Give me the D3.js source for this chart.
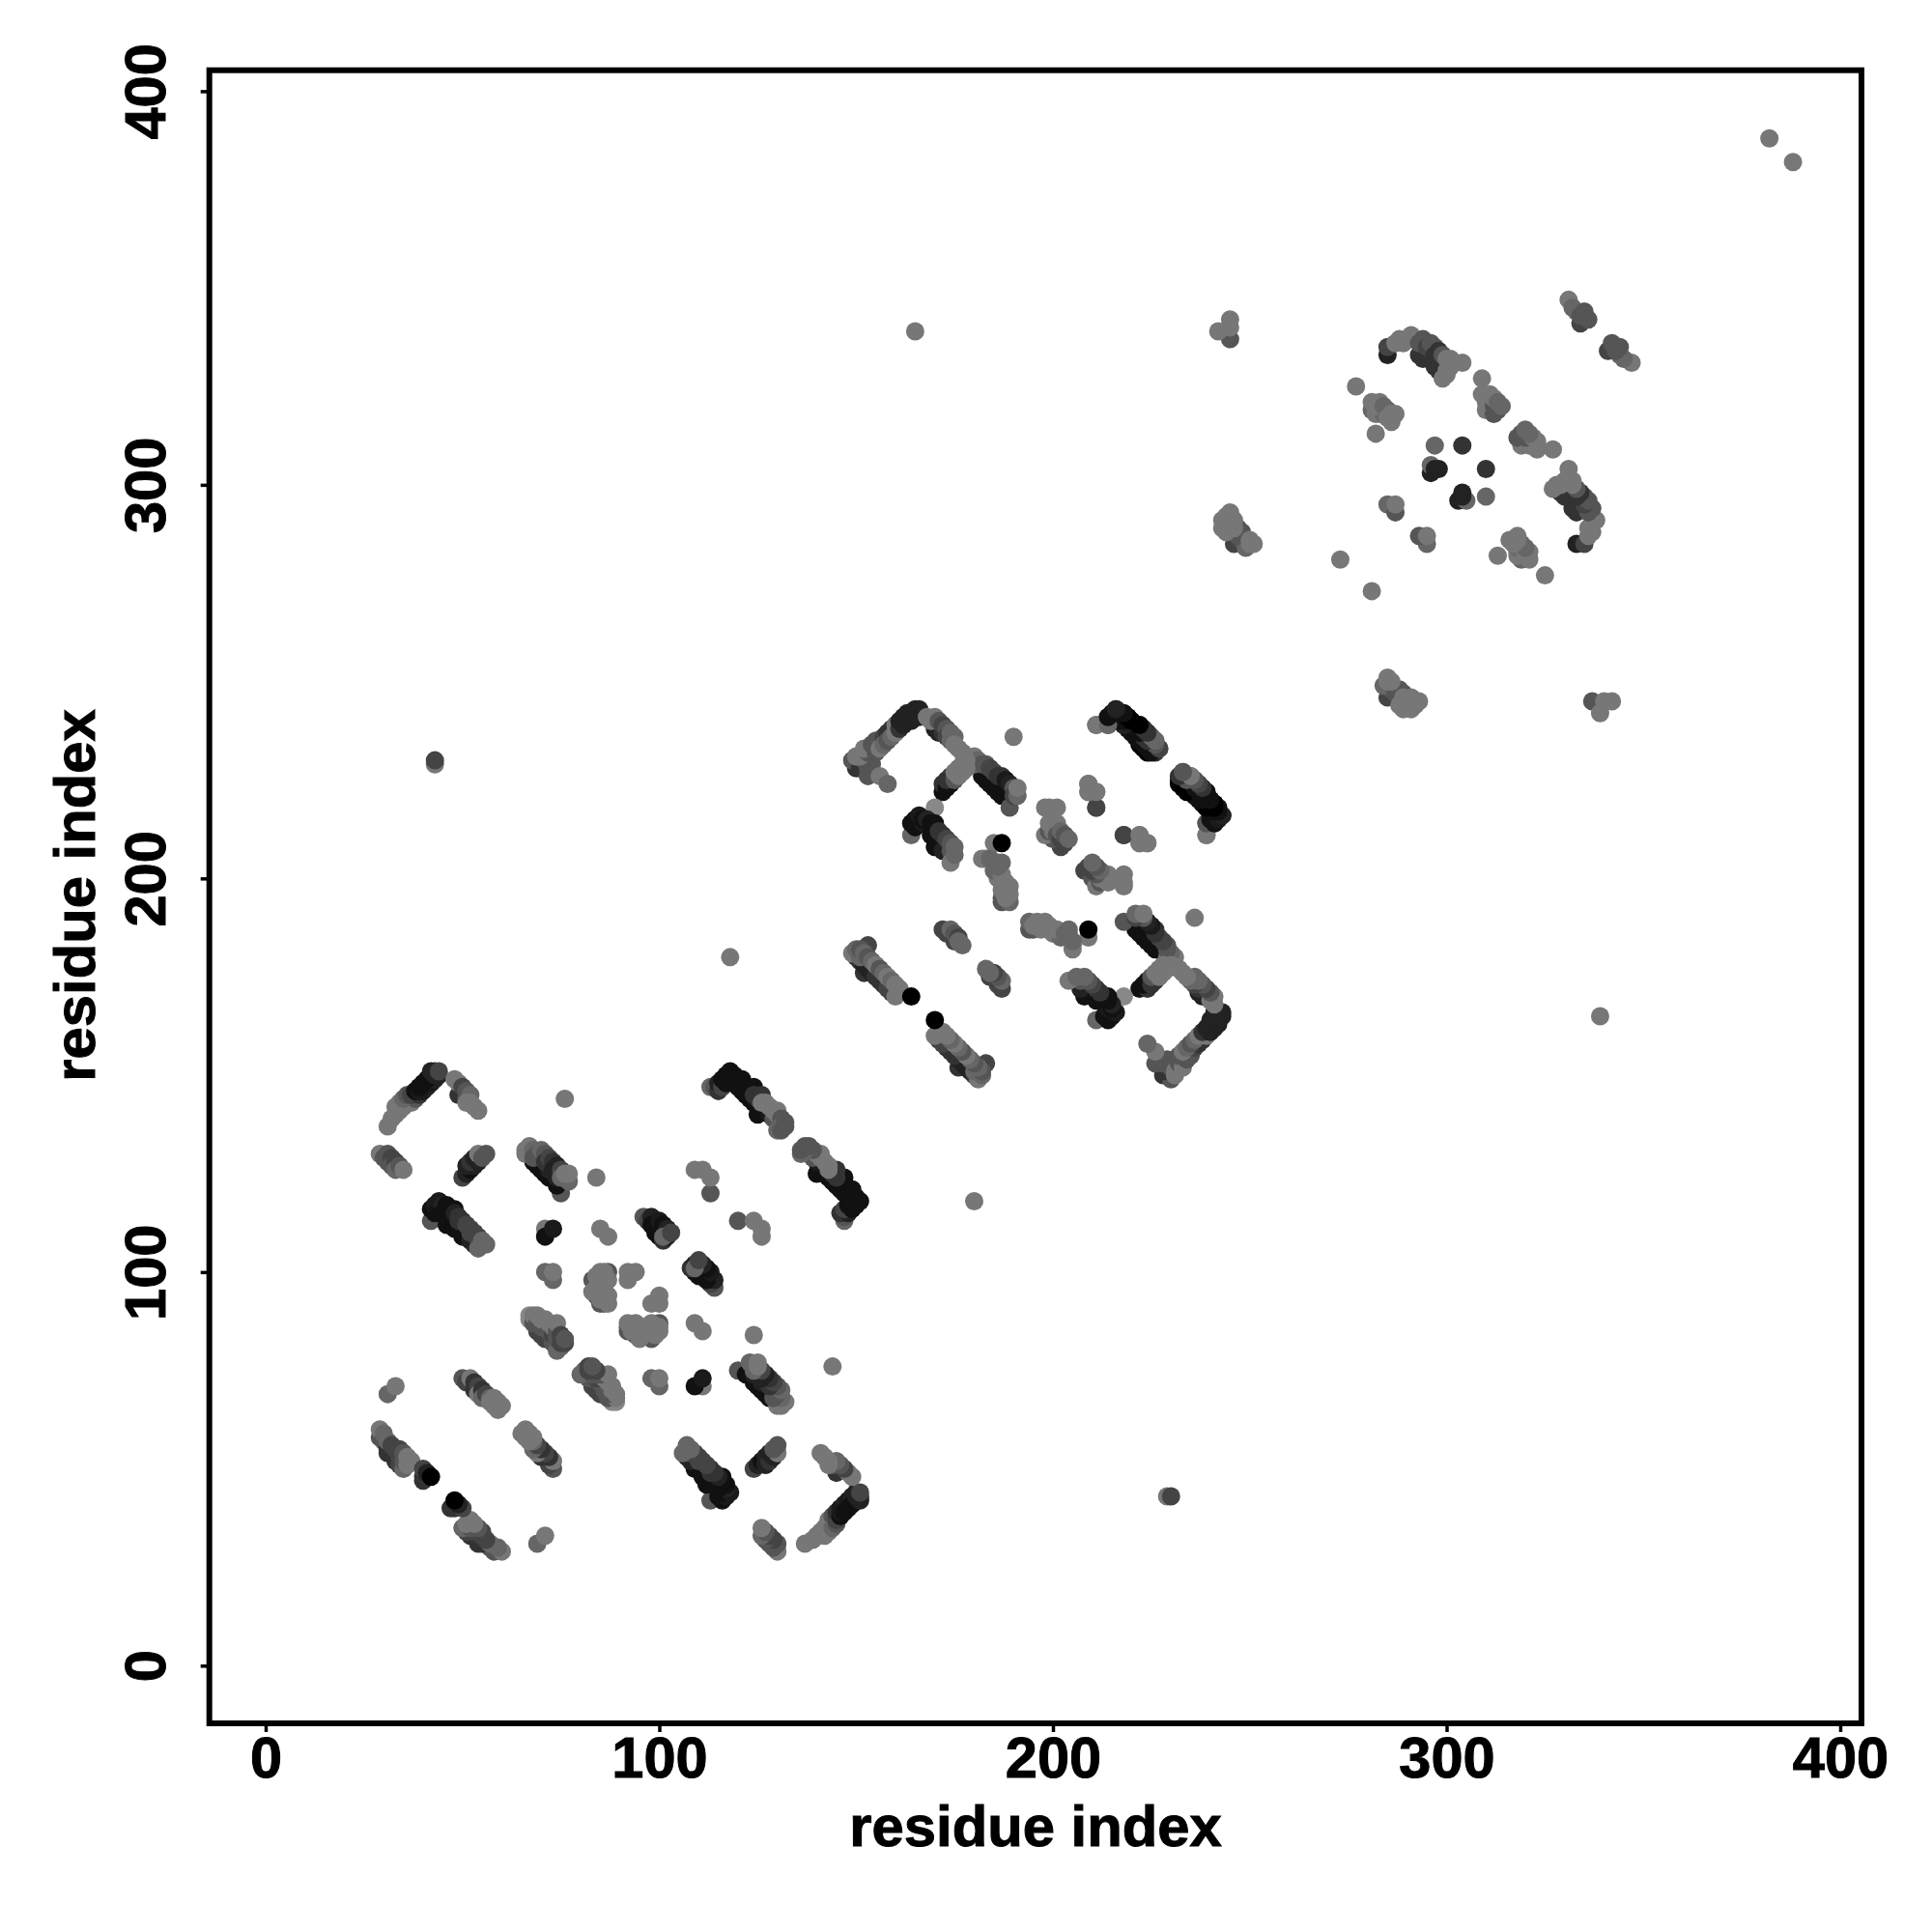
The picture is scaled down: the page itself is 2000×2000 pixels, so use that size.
<!DOCTYPE html>
<html><head><meta charset="utf-8">
<style>html,body{margin:0;padding:0;background:#fff}svg{display:block}</style>
<script src="https://cdn.jsdelivr.net/npm/d3@7"></script></head>
<body><svg id="c" width="2000" height="2000"></svg>
<script>
const tickValues=[0,100,200,300,400];
const axisTitle="residue index";
// contacts: [residue i, residue j, grey level]; the map is symmetric, each pair is drawn at (i,j) and (j,i)
const contacts=[
[31,137,119],[32,139,119],[33,140,119],[34,141,119],[35,142,119],[33,142,119],[34,143,119],[36,143,119],[37,143,119],[38,144,85],[35,144,102],[36,145,85],[37,145,68],[39,145,51],[38,146,17],[40,146,26],[41,147,34],[39,146,26],[39,147,17],[42,148,26],[40,148,17],[43,149,34],[41,149,17],[44,150,34],[42,150,17],[43,150,34],[43,151,34],[42,151,34],[44,151,68],
[49,145,51],[50,145,51],[48,149,119],[49,148,119],[50,147,68],[51,146,85],[51,144,85],[52,145,102],[51,143,119],[52,143,119],[53,142,119],[54,141,119],
[29,130,119],[30,129,85],[31,130,85],[31,128,85],[32,129,68],[32,127,85],[33,128,68],[33,126,102],[34,127,85],[35,126,119],
[50,124,68],[51,125,34],[52,126,17],[51,127,34],[53,127,34],[52,128,51],[54,128,34],[53,129,34],[54,130,119],[55,129,85],[56,130,85],
[42,113,85],[42,116,17],[43,115,17],[43,117,26],[44,116,17],[44,118,26],[45,117,34],[46,114,17],[46,117,17],[47,113,17],[46,112,17],[48,112,17],[48,111,17],[49,111,17],[50,109,17],[51,109,17],[50,110,17],[53,107,34],[52,108,34],[45,115,17],[48,116,17],[47,116,17],[48,115,34],[49,114,51],[49,113,51],[50,113,51],[51,112,68],[52,111,68],[52,110,68],[53,110,68],[54,109,68],[54,108,68],[54,106,102],[55,108,102],[55,107,102],[56,107,102],
[75,120,85],[68,128,17],[69,127,17],[70,126,17],[71,125,17],[72,124,17],[73,124,17],[74,122,17],[72,126,34],[74,124,34],[66,130,119],[66,131,119],[67,132,119],[68,131,102],[68,129,85],[69,130,85],[70,131,102],[71,130,85],[71,128,51],[72,129,68],[73,128,51],[73,126,34],[74,127,34],[75,126,68],[75,124,102],[76,124,102],[77,123,102],[76,125,119],[77,125,119],
[76,144,119],[84,124,119],
[71,111,119],[71,109,17],[73,111,26],[85,111,119],[87,109,119],
[96,114,85],[97,113,68],[98,114,34],[98,112,17],[99,112,17],[99,110,17],[100,109,17],[101,108,51],[100,111,17],[100,113,26],[101,112,17],[102,109,34],[102,111,34],[101,109,102],[103,110,68],
[113,120,85],[109,126,119],[111,126,119],[113,124,119],
[113,147,102],[114,147,85],[115,146,51],[115,148,34],[116,147,68],[116,149,17],[117,148,17],[117,150,17],[118,151,17],[118,149,17],[119,148,17],[119,150,17],[120,149,17],[120,147,17],[121,149,17],[121,146,17],[122,145,17],[123,144,17],[124,143,17],[125,142,17],[126,141,17],[127,141,17],[125,140,17],[128,140,26],[122,147,17],[123,146,17],[124,147,17],[124,145,51],[125,144,51],[126,145,51],[126,143,119],[127,143,119],[128,142,119],[129,139,85],[129,141,119],[130,141,119],[130,140,119],[130,136,102],[131,139,85],[131,137,102],[131,136,85],[132,137,85],[132,138,85],
[71,100,102],[73,98,102],[73,100,119],
[85,92,85],[84,94,85],[86,92,85],[83,98,85],[87,100,85],[86,100,119],[85,100,119],[83,95,119],[84,96,119],[84,99,119],[85,95,119],[86,96,119],[86,97,119],[87,94,119],[85,93,119],[87,92,119],[85,98,119],[87,98,119],[92,98,119],[92,100,119],[94,100,119],
[31,69,102],[33,71,119],
[50,73,85],[51,72,68],[52,73,119],[53,70,51],[53,72,51],[54,71,68],[54,69,119],[55,70,51],[55,68,102],[56,69,68],[57,68,102],[57,67,119],[58,66,119],[58,68,119],[59,65,119],[59,67,119],[60,66,119],
[69,85,68],[70,84,68],[71,83,68],[72,83,68],[73,82,85],[74,80,102],[75,81,102],[67,88,136],[67,89,136],[68,87,85],[68,89,119],[69,87,85],[69,89,119],[70,86,85],[70,88,119],[71,88,119],[72,85,85],[72,87,119],[73,84,68],[73,86,119],[74,83,85],[74,85,85],[74,87,119],[75,82,68],[75,84,68],[76,82,68],[76,83,85],
[29,58,85],[29,60,119],[30,57,85],[30,59,102],[31,54,51],[31,55,51],[32,54,51],[33,52,51],[33,53,51],[34,51,68],[31,57,102],[32,56,68],[33,55,68],[34,53,68],[34,55,68],[35,50,102],[35,52,85],[35,54,85],[36,51,119],[36,53,119],[37,52,119],[40,47,51],[40,48,51],[40,50,68],[41,49,34],[42,48,0],
[150,180,68],[151,179,51],[152,176,51],[152,178,34],[153,177,34],[154,176,34],[155,175,51],[156,174,51],[157,173,51],[158,172,68],[159,171,68],[149,181,119],[150,182,102],[153,183,68],[151,180,102],[151,182,85],[152,181,102],[153,180,85],[154,179,102],[155,178,119],[156,177,85],[157,176,102],[158,175,119],[159,174,102],[160,173,119],[160,170,119],[161,172,119],[164,170,0],
[172,187,68],[173,186,68],[174,187,102],[175,184,68],[175,186,85],[176,185,68],[176,184,102],[177,183,102],
[150,228,51],[149,230,85],[151,228,51],[152,230,85],[153,226,85],[153,228,85],[154,229,85],[150,231,119],[151,231,119],[153,232,85],[152,233,119],[154,234,85],[155,232,85],[156,226,119],[158,224,102],[155,235,85],[156,233,119],[157,236,68],[157,234,102],[158,237,51],[158,235,85],[159,238,51],[159,236,102],[160,237,119],[160,239,119],[161,238,51],[161,240,34],[162,239,34],[162,241,34],[164,240,34],[163,240,34],[163,242,34],[164,242,34],[165,241,34],[165,243,34],[166,241,34],[166,243,34],
[170,238,34],[171,237,34],[172,237,51],[168,241,119],[169,240,119],[170,241,119],[171,240,85],[172,239,68],[173,238,85],[173,236,68],[174,235,102],[174,237,102],[175,236,102],[175,234,119],[176,233,119],[177,232,119],[178,231,119],
[182,226,17],[183,225,17],[184,224,17],[185,223,17],[186,222,17],[187,221,17],[188,222,17],[189,220,17],[189,218,85],[179,230,119],[180,231,119],[180,229,102],[181,230,102],[182,229,85],[183,229,85],[184,228,68],[185,227,68],[186,226,51],[187,226,51],[188,225,26],[189,224,34],[190,223,85],[190,221,68],[191,221,102],[191,223,119],
[172,222,17],[172,224,51],[173,223,17],[174,224,17],[173,225,51],[174,226,51],[175,225,85],[175,227,119],[176,226,119],[177,227,119],[176,228,119],[177,229,119],[178,228,119],[178,230,119],
[170,218,136],
[164,211,102],[164,214,17],[165,213,17],[165,215,17],[166,216,26],[167,214,26],[167,215,17],[168,215,34],[169,211,17],[170,210,17],[171,209,17],[170,208,17],[173,208,34],[172,207,34],[169,214,17],[170,214,17],[171,212,51],[172,211,51],[173,210,68],[174,209,85],[174,207,85],[174,204,119],[175,208,102],[175,206,102],
[185,209,119],[187,209,0],
[187,194,85],[189,194,102],[187,195,85],[188,195,119],[187,197,119],[188,197,119],[189,196,119],[189,198,119],[188,199,119],[187,199,119],[186,200,119],[185,202,102],[187,201,119],[182,205,119],[183,205,119],[184,205,102],[186,203,102],[186,204,102],[187,204,102],
[190,236,119],
[211,218,68],[209,224,119],[209,222,119],[211,222,119],
[218,211,68],[222,209,119],[222,211,119],[224,209,119],
[202,208,68],[200,210,85],[198,211,119],[199,212,85],[199,214,119],[200,212,119],[200,214,119],[201,214,119],[201,211,85],[202,210,68],[202,212,102],[203,209,68],[203,211,85],[204,210,102],[198,218,119],[199,218,119],[201,218,119],
[211,239,119],[214,239,85],[214,241,17],[215,240,17],[215,242,26],[216,243,34],[217,240,17],[217,242,17],[218,239,0],[218,241,0],[219,241,0],[220,238,17],[220,240,17],[221,236,17],[221,238,17],[222,239,17],[222,234,0],[222,237,17],[223,233,0],[224,232,0],[223,236,17],[223,238,51],[224,237,68],[225,236,85],[225,234,85],[226,232,51],[226,235,119],[227,233,85],
[232,225,17],[233,224,17],[233,227,68],[234,223,17],[235,222,17],[236,221,17],[237,220,17],[238,219,17],[234,226,85],[235,224,51],[235,226,102],[236,223,51],[236,225,102],[237,222,17],[237,224,51],[238,221,17],[238,223,51],[239,222,0],[239,218,34],[240,216,17],[240,218,17],[240,220,0],[239,211,119],[239,214,102],[241,214,17],[241,219,0],[242,216,17],[242,218,17],[243,216,34],
[43,229,119],[43,230,68],[165,339,119],[118,180,119],
[245,337,85],[242,339,119],[245,340,119],[245,342,119],
[246,285,68],[247,286,68],[248,286,85],[249,284,102],[247,287,85],[248,288,85],[247,289,85],[244,288,119],[243,289,119],[243,291,119],[245,290,119],[246,289,119],[246,291,119],[244,292,119],[245,293,119],[250,285,119],[250,286,119],[251,285,119],
[273,281,119],[277,325,119],
[281,319,102],[282,318,119],[283,318,119],[284,318,102],[285,319,102],[281,321,119],[282,320,119],[283,321,119],[284,320,102],[285,317,119],[286,316,119],[286,318,119],[287,318,119],[282,313,119],
[285,333,34],[285,335,68],[293,333,51],[294,332,51],[295,333,51],[296,333,51],[297,330,51],[298,329,51],[298,332,51],[299,331,51],[287,336,119],[288,337,119],[289,336,119],[290,337,119],[291,338,119],[292,337,119],[293,336,85],[294,337,85],[295,335,68],[296,336,85],[297,335,85],[297,333,51],[298,334,51],[299,333,85],[299,327,119],[300,328,119],[300,329,119],[300,332,119],[301,330,119],[301,332,119],[302,331,119],[304,331,119],
[309,327,119],[310,319,119],[312,318,85],[313,319,85],[309,323,119],[310,321,119],[311,321,119],[311,323,119],[312,320,85],[312,322,119],[313,321,102],[314,320,102],
[297,310,102],[304,310,51],[296,303,34],[296,305,102],[297,304,34],[298,304,34],
[285,295,102],[287,293,85],[287,295,119],
[334,341,68],[331,347,119],[332,345,102],[333,344,102],[334,343,85],[335,344,85],[336,342,85],
[382,388,119]
];
const plot={left:216.7,right:1927,top:72.7,bottom:1784};
const x=d3.scaleLinear().domain([0,400]).range([275,1905]);
const y=d3.scaleLinear().domain([0,400]).range([1724.3,94.4]);
const svg=d3.select("#c");
const points=contacts.concat(contacts.map(d=>[d[1],d[0],d[2]]));
svg.append("g").selectAll("circle").data(points).join("circle")
 .attr("cx",d=>x(d[0])).attr("cy",d=>y(d[1])).attr("r",9.5)
 .attr("fill",d=>d3.rgb(d[2],d[2],d[2]).formatHex());
svg.append("rect").attr("x",plot.left).attr("y",plot.top).attr("width",plot.right-plot.left).attr("height",plot.bottom-plot.top)
 .attr("fill","none").attr("stroke","#000").attr("stroke-width",6);
const font="'Liberation Sans',Arial,sans-serif";
const gx=svg.append("g").attr("transform",`translate(0,${plot.bottom})`)
 .call(d3.axisBottom(x).tickValues(tickValues).tickSize(9).tickPadding(13));
const gy=svg.append("g").attr("transform",`translate(${plot.left},0)`)
 .call(d3.axisLeft(y).tickValues(tickValues).tickSize(9).tickPadding(0));
[gx,gy].forEach(g=>{g.select(".domain").remove();
 g.selectAll("line").attr("stroke","#000").attr("stroke-width",3.5);
 g.selectAll("text").attr("fill","#000").attr("stroke","#000").attr("stroke-width",1).style("font",`bold 59.5px ${font}`);});
gx.selectAll("text").attr("dy",null).attr("y",null).attr("dominant-baseline","auto").attr("transform","translate(0,56)");
gy.selectAll("text").attr("x",null).attr("dy",null).attr("text-anchor","middle")
 .attr("transform","translate(-45.7,0) rotate(-90)");
svg.append("text").attr("x",1072).attr("y",1911).attr("text-anchor","middle").attr("stroke","#000").attr("stroke-width",1).style("font",`bold 59.8px ${font}`).text(axisTitle);
svg.append("text").attr("transform","translate(98,927) rotate(-90)").attr("text-anchor","middle").attr("stroke","#000").attr("stroke-width",1).style("font",`bold 59.8px ${font}`).text(axisTitle);
</script></body></html>
